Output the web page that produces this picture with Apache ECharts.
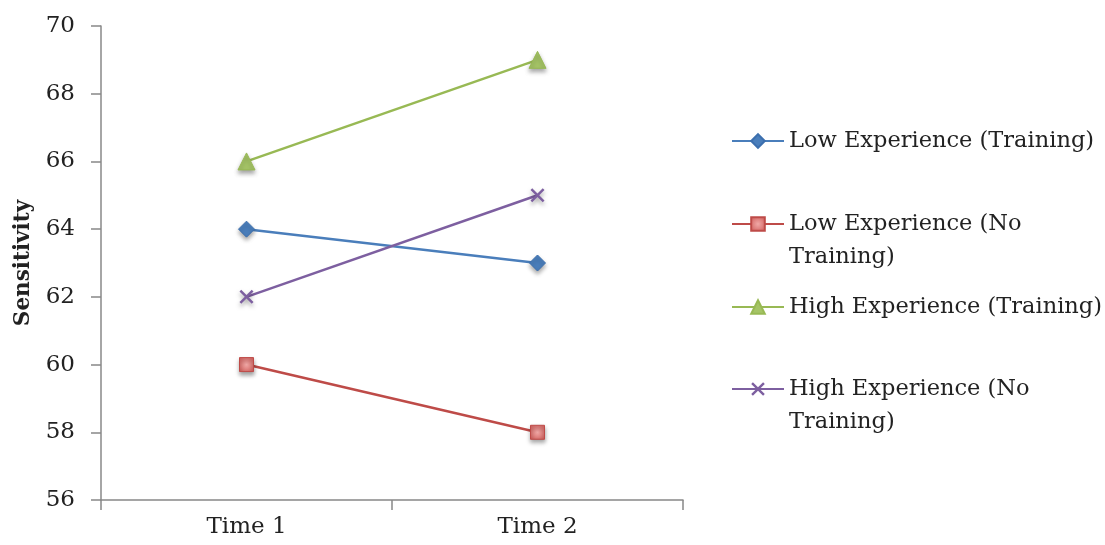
<!DOCTYPE html>
<html>
<head>
<meta charset="utf-8">
<script src="https://cdn.jsdelivr.net/npm/echarts@6/dist/echarts.min.js"></script>
<style>
  html, body { margin: 0; padding: 0; background: #fff; }
  #chart { width: 1105px; height: 545px; }
</style>
</head>
<body>
<div id="chart"></div>
<script>
// Sensitivity at two measurement points, by experience level and training
const categories = ['Time 1', 'Time 2'];
const lowTraining = [64, 63];
const lowNoTraining = [60, 58];
const highTraining = [66, 69];
const highNoTraining = [62, 65];
const yTicks = { min: 56, max: 70, step: 2 };

const seriesNames = [
  'Low Experience (Training)',
  'Low Experience (No Training)',
  'High Experience (Training)',
  'High Experience (No Training)'
];
// wrapped legend labels; a leading blank line keeps the first line level with the icon
const legendLabels = [
  'Low Experience (Training)',
  ' \nLow Experience (No\nTraining)',
  'High Experience (Training)',
  ' \nHigh Experience (No\nTraining)'
];

const FONT = 'DejaVu Serif';
const LINE_H = 33;
const crossPath = 'path://M2,0 L8,6 L14,0 L16,2 L10,8 L16,14 L14,16 L8,10 L2,16 L0,14 L6,8 L0,2 Z';
const shadow = { shadowBlur: 4, shadowColor: 'rgba(0,0,0,0.35)', shadowOffsetY: 3 };

function lineSeries(name, data, color, symbol, size, itemStyle) {
  return {
    name, type: 'line', data, color,
    symbol, symbolSize: size,
    showAllSymbol: true,
    lineStyle: { color, width: 2.5 },
    itemStyle: Object.assign({ color }, shadow, itemStyle || {}),
    emphasis: { disabled: true },
    z: 3
  };
}

const series = [
  lineSeries(seriesNames[0], lowTraining, '#4A7EBB', 'diamond', 16,
    { borderColor: '#3C6FAE', borderWidth: 1 }),
  lineSeries(seriesNames[1], lowNoTraining, '#BE4B48', 'rect', 14, {
    color: {
      type: 'radial', x: 0.5, y: 0.5, r: 0.7,
      colorStops: [{ offset: 0, color: '#F0A8A6' }, { offset: 1, color: '#CC5552' }]
    },
    borderColor: '#BE4B48', borderWidth: 1
  }),
  lineSeries(seriesNames[2], highTraining, '#98B954', 'triangle', 17,
    { color: '#A5C466', borderColor: '#98B954', borderWidth: 1 }),
  lineSeries(seriesNames[3], highNoTraining, '#7D5FA0', crossPath, 14, {})
];

// vertical centre of each legend icon
const legendCenters = [141, 224, 307, 389];
const legends = seriesNames.map((n, i) => {
  const lines = legendLabels[i].split('\n').length;
  return {
    data: [n],
    left: 726,
    top: legendCenters[i] - lines * LINE_H / 2 - 5,
    orient: 'vertical',
    itemWidth: 52,
    itemHeight: 17,
    itemGap: 0,
    selectedMode: false,
    formatter: () => legendLabels[i],
    textStyle: { fontFamily: FONT, fontSize: 22.5, color: '#222', lineHeight: LINE_H }
  };
});

const chart = echarts.init(document.getElementById('chart'), null, { renderer: 'canvas' });
chart.setOption({
  animation: false,
  backgroundColor: '#fff',
  grid: { left: 101, right: 422, top: 26, bottom: 45, containLabel: false, outerBoundsMode: 'none' },
  legend: legends,
  xAxis: {
    type: 'category',
    data: categories,
    boundaryGap: true,
    axisLine: { lineStyle: { color: '#888', width: 1.5 } },
    axisTick: { show: true, length: 10, lineStyle: { color: '#888', width: 1.5 } },
    axisLabel: { fontFamily: FONT, fontSize: 23, color: '#222', margin: 16 }
  },
  yAxis: {
    type: 'value',
    min: yTicks.min, max: yTicks.max, interval: yTicks.step,
    name: 'Sensitivity',
    nameLocation: 'middle',
    nameGap: 67,
    nameRotate: 90,
    nameTextStyle: { fontFamily: FONT, fontSize: 21.5, fontWeight: 'bold', color: '#222' },
    axisLine: { show: true, lineStyle: { color: '#888', width: 1.5 } },
    axisTick: { show: true, length: 10, lineStyle: { color: '#888', width: 1.5 } },
    splitLine: { show: false },
    axisLabel: { fontFamily: FONT, fontSize: 23, color: '#222', margin: 26 }
  },
  series
});
</script>
</body>
</html>
